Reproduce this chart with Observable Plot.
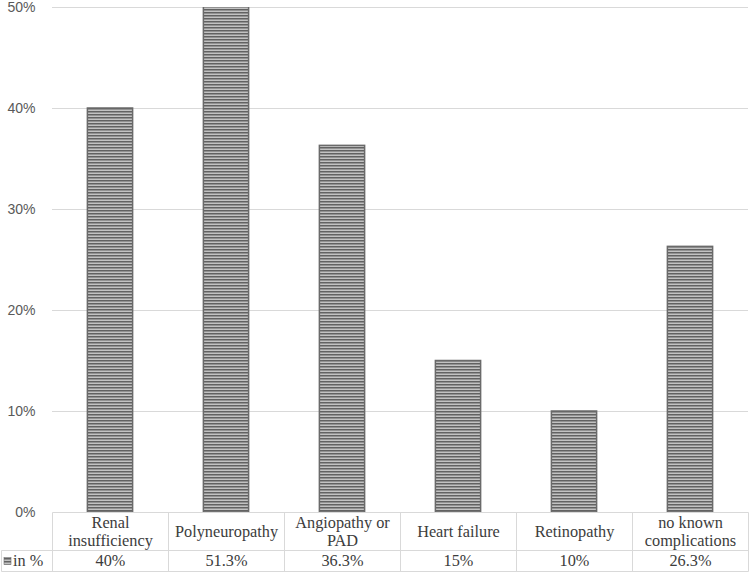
<!DOCTYPE html>
<html><head><meta charset="utf-8">
<script src="https://cdn.jsdelivr.net/npm/d3@7"></script>
<script src="https://cdn.jsdelivr.net/npm/@observablehq/plot@0.6"></script>
<style>body{margin:0;background:#fff}</style>
</head><body><div id="chart"></div>
<script>
const categories = ["Renal insufficiency","Polyneuropathy","Angiopathy or PAD","Heart failure","Retinopathy","no known complications"];
const categoryLabels = ["Renal\ninsufficiency","Polyneuropathy","Angiopathy or\nPAD","Heart failure","Retinopathy","no known\ncomplications"];
const values = [40, 51.3, 36.3, 15, 10, 26.3];
const valueLabels = ["40%","51.3%","36.3%","15%","10%","26.3%"];
const yTicks = [0, 10, 20, 30, 40, 50];
const seriesName = "in %";

const data = categories.map((c, i) => ({category: c, label: categoryLabels[i], value: values[i], valueLabel: valueLabels[i]}));

const PAD = 0.61;
const ROW1 = 38, ROW2 = 21;
const SERIF = "'Liberation Serif', 'Times New Roman', serif";
const FS = 16.3;
const TXT = "#3c3c3c";
const LINE = "#d9d9d9";

function defs() {
  const d = d3.create("svg:defs");
  const p = d.append("pattern").attr("id", "stripes").attr("patternUnits", "userSpaceOnUse")
    .attr("width", 8).attr("height", 3);
  p.append("rect").attr("width", 8).attr("height", 3).attr("fill", "#c2c2c2");
  p.append("rect").attr("y", 0).attr("width", 8).attr("height", 1.5).attr("fill", "#626262");
  return d.node();
}

function tableGrid(index, scales, vals, dimensions) {
  const x = scales.x, y = scales.y;
  const step = x(categories[1]) - x(categories[0]);
  const bw = step * (1 - PAD);
  const top = Math.round(y(0)) + 0.5;
  const mid = top + ROW1, bottom = mid + ROW2;
  const left = Math.round(x(categories[0]) + bw / 2 - step / 2) + 0.5;
  const legendLeft = 1.5;
  const g = d3.create("svg:g").attr("text-anchor", "start");
  const lines = g.append("g").attr("stroke", LINE).attr("stroke-width", 1).attr("fill", "none");
  const right = Math.round(left + step * categories.length) - 0.5;
  lines.append("line").attr("x1", left).attr("x2", right).attr("y1", top).attr("y2", top);
  lines.append("line").attr("x1", legendLeft).attr("x2", right).attr("y1", mid).attr("y2", mid);
  lines.append("line").attr("x1", legendLeft).attr("x2", right).attr("y1", bottom).attr("y2", bottom);
  for (let i = 0; i <= categories.length; i++) {
    const xx = i === categories.length ? right : Math.round(left + i * step - 0.5) + 0.5;
    lines.append("line").attr("x1", xx).attr("x2", xx).attr("y1", top).attr("y2", bottom);
  }
  lines.append("line").attr("x1", legendLeft).attr("x2", legendLeft).attr("y1", mid).attr("y2", bottom);
  // legend key
  const ky = mid + ROW2 / 2;
  g.append("rect").attr("x", 4).attr("y", ky - 3.5).attr("width", 7).attr("height", 7)
    .attr("fill", "url(#stripes)").attr("stroke", "#6e6e6e").attr("stroke-width", 0.6);
  g.append("text").attr("x", 13).attr("y", ky).attr("dy", "0.32em")
    .style("font-family", SERIF).attr("font-size", FS).attr("fill", TXT).text(seriesName);
  return g.node();
}

const chart = Plot.plot({
  width: 750,
  height: 573,
  marginLeft: 52,
  marginRight: 2,
  marginTop: 7,
  marginBottom: 61,
  style: {fontFamily: "Liberation Sans, Arial, sans-serif", background: "#fff"},
  x: {domain: categories, paddingInner: PAD, paddingOuter: PAD / 2, align: 0.5, round: false, axis: null},
  y: {domain: [0, 50], axis: null},
  marks: [
    defs,
    Plot.gridY(yTicks.filter(t => t > 0), {stroke: LINE, strokeOpacity: 1, strokeWidth: 1}),
    Plot.axisY(yTicks, {tickSize: 0, tickPadding: 17, tickFormat: d => d + "%", fontSize: 14, fill: "#595959", label: null}),
    Plot.barY(data, {x: "category", y: "value", fill: "url(#stripes)", stroke: "#6a6a6a", strokeWidth: 1.5, clip: true}),
    tableGrid,
    Plot.text(data, {x: "category", y: 0, text: "label", dy: ROW1 / 2, lineAnchor: "middle", lineHeight: 1.08,
      fontFamily: SERIF, fontSize: FS, fill: TXT}),
    Plot.text(data, {x: "category", y: 0, text: "valueLabel", dy: ROW1 + ROW2 / 2, lineAnchor: "middle",
      fontFamily: SERIF, fontSize: FS, fill: TXT})
  ]
});
document.getElementById("chart").appendChild(chart);
</script>
</body></html>
